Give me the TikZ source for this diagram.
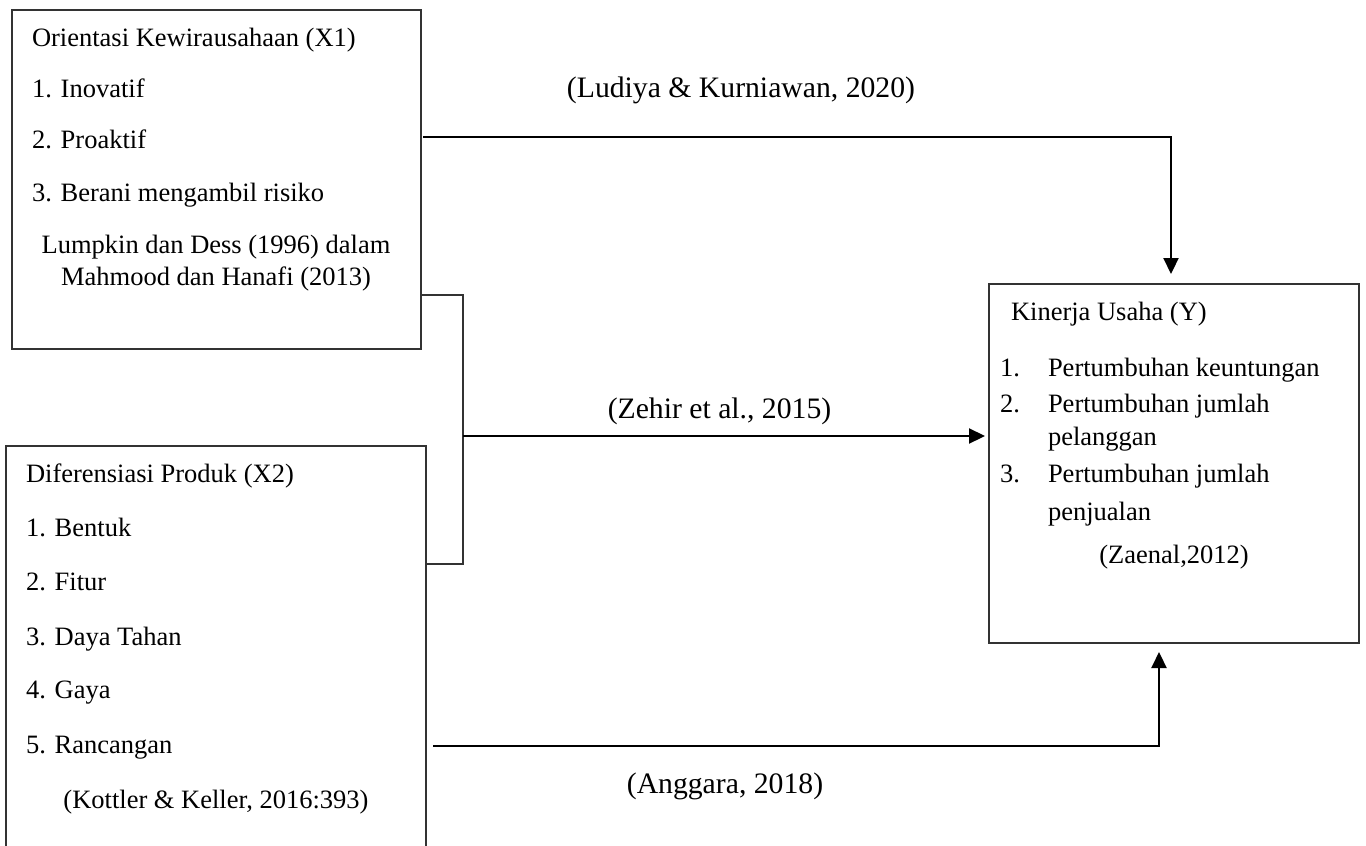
\documentclass[tikz,border=0pt]{standalone}
\usepackage{fontspec}
\setmainfont{Liberation Serif}
\usetikzlibrary{arrows.meta}
\newcommand\boxfont{\fontsize{26.5}{30}\selectfont}
\newcommand\labfont{\fontsize{29.7}{34}\selectfont}
\tikzset{
  box/.style={draw=black!80, line width=1.3pt, inner sep=0pt, outer sep=0pt, anchor=north west},
  txt/.style={inner sep=0pt, outer sep=0pt, anchor=base west, font=\boxfont},
  ctxt/.style={inner sep=0pt, outer sep=0pt, anchor=base, font=\boxfont},
  lab/.style={inner sep=0pt, outer sep=0pt, anchor=base, font=\labfont},
  arr/.style={line width=2.2pt, -{Triangle[length=16pt,width=15pt]}},
  link/.style={line width=1.1pt, draw=black!80},
}
\begin{document}
\begin{tikzpicture}[x=1pt,y=-1pt]
\useasboundingbox (0,0) rectangle (1366,846);
\fill[white] (0,0) rectangle (1366,846);
\clip (0,0) rectangle (1366,846);

% boxes
\node[box, minimum width=409, minimum height=339] (x1) at (12,10) {};
\node[box, minimum width=420, minimum height=440] (x2) at (6,446) {};
\node[box, minimum width=370, minimum height=359] (y) at (989,284) {};

% box X1 text
\node[txt] (x1t) at (32,46) {Orientasi Kewirausahaan (X1)};
\node[txt] (x1a) at (32,97) {1. Inovatif};
\node[txt] (x1b) at (32,148) {2. Proaktif};
\node[txt] (x1c) at (32,201) {3. Berani mengambil risiko};
\node[ctxt] (x1r1) at (216,253) {Lumpkin dan Dess (1996) dalam};
\node[ctxt] (x1r2) at (216,285) {Mahmood dan Hanafi (2013)};

% box X2 text
\node[txt] (x2t) at (26,482) {Diferensiasi Produk (X2)};
\node[txt] (x2a) at (26,536) {1. Bentuk};
\node[txt] (x2b) at (26,590) {2. Fitur};
\node[txt] (x2c) at (26,645) {3. Daya Tahan};
\node[txt] (x2d) at (26,698) {4. Gaya};
\node[txt] (x2e) at (26,753) {5. Rancangan};
\node[ctxt] (x2r) at (216,808) {(Kottler \& Keller, 2016:393)};

% box Y text
\node[txt] (yt) at (1011,320) {Kinerja Usaha (Y)};
\node[txt] (yn1) at (1000,376) {1.};
\node[txt] (ya1) at (1048,376) {Pertumbuhan keuntungan};
\node[txt] (yn2) at (1000,412) {2.};
\node[txt] (ya2) at (1048,412) {Pertumbuhan jumlah};
\node[txt] (ya2b) at (1048,445) {pelanggan};
\node[txt] (yn3) at (1000,482) {3.};
\node[txt] (ya3) at (1048,482) {Pertumbuhan jumlah};
\node[txt] (ya3b) at (1048,520) {penjualan};
\node[ctxt] (yr) at (1174,563) {(Zaenal,2012)};

% connector labels
\node[lab] (l1) at (741,97) {(Ludiya \& Kurniawan, 2020)};
\node[lab] (l2) at (719.5,418) {(Zehir et al., 2015)};
\node[lab] (l3) at (725,793) {(Anggara, 2018)};

% bend coordinates
\coordinate (t1) at (1171,137);
\coordinate (b1) at (463,295);
\coordinate (bm) at (463,436);
\coordinate (b2) at (463,564);
\coordinate (t3) at (1159,746);
\coordinate (s3) at (433,746);

% connectors
\draw[arr, shorten >=10pt] ([xshift=2pt]x1.east |- t1) -- (t1) -- (t1 |- y.north);
\draw[link] (x1.east |- b1) -- (b1) -- (b2) -- (x2.east |- b2);
\draw[arr, shorten >=4pt] (bm) -- (y.west |- bm);
\draw[arr, shorten >=9pt] (s3) -- (t3) -- (t3 |- y.south);
\end{tikzpicture}
\end{document}
